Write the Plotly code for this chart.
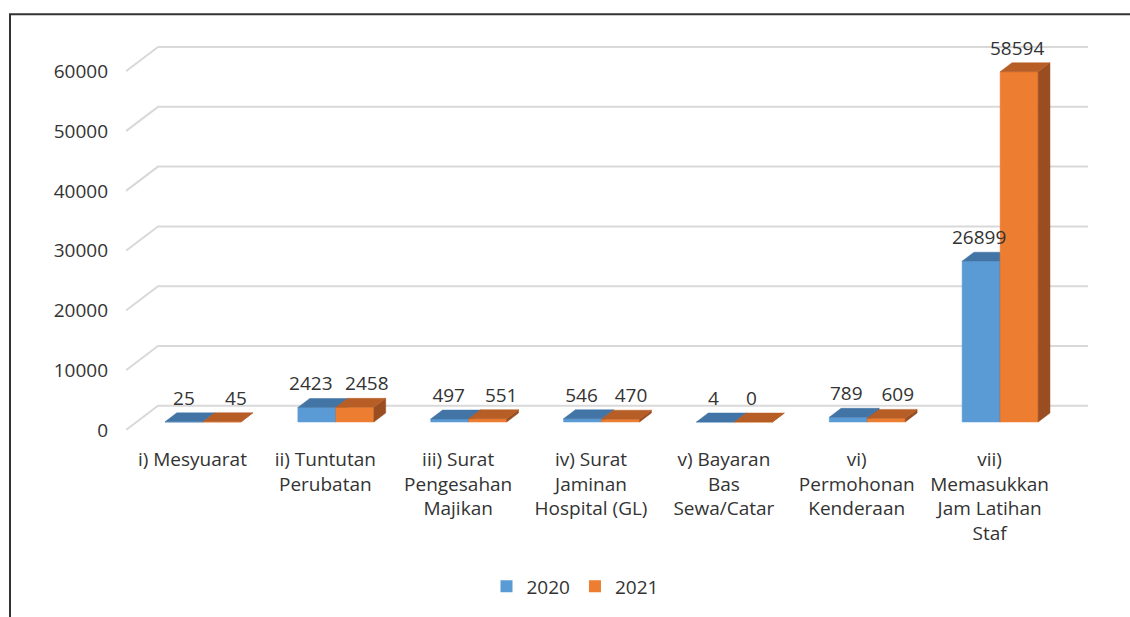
import plotly.graph_objects as go

# ---------------- data ----------------
categories = [
    "i) Mesyuarat",
    "ii) Tuntutan<br>Perubatan",
    "iii) Surat<br>Pengesahan<br>Majikan",
    "iv) Surat<br>Jaminan<br>Hospital (GL)",
    "v) Bayaran<br>Bas<br>Sewa/Catar",
    "vi)<br>Permohonan<br>Kenderaan",
    "vii)<br>Memasukkan<br>Jam Latihan<br>Staf",
]
values_2020 = [25, 2423, 497, 546, 4, 789, 26899]
values_2021 = [45, 2458, 551, 470, 0, 609, 58594]
series_names = ["2020", "2021"]
y_ticks = [0, 10000, 20000, 30000, 40000, 50000, 60000]

# ---------------- styling / geometry ----------------
W, H = 1130, 617
L, R, T, B = 126, 1088, 30, 434          # plot area in pixels
DEPTH_PX = (32.0, 24.5)                  # oblique depth of the wall
n = len(categories)
px_per_x = (R - L - DEPTH_PX[0]) / n
py_per_unit = 60.38 / 10000.0
x_range = [-0.5, n - 0.5 + DEPTH_PX[0] / px_per_x]
y_range = [0, (B - T) / py_per_unit]

# horizontal nudges (px) of the data labels, as in the reference
label_nudge_px = [
    [0, -6, -1, -1, -2, -2, -2],
    [14, 12, 13.5, 10.5, -2, 11.5, -2],
]

def dx(p):
    return p / px_per_x

def dy(p):
    return p / py_per_unit

DXu, DYu = dx(DEPTH_PX[0]), dy(DEPTH_PX[1])
F0, FD = 0.33, 0.37          # bar front position / bar depth (fractions of depth)
BW = dx(38)                  # bar width

FONT = "Open Sans"
FS = 19
TXT = "#333333"
GRID = "#D9D9D9"
front_cols = ["#5B9BD5", "#ED7D31"]
top_cols = ["#4274A6", "#B65E26"]
side_cols = ["#37628D", "#9A4D20"]

fig = go.Figure()

# gridlines (diagonal + back wall line)
gx, gy = [], []
for v in y_ticks:
    gx += [-0.5, -0.5 + DXu, n - 0.5 + DXu, None]
    gy += [v, v + DYu, v + DYu, None]
fig.add_trace(go.Scatter(x=gx, y=gy, mode="lines", line=dict(color=GRID, width=2),
                         hoverinfo="skip", showlegend=False))

def poly_trace(xs, ys, color):
    return go.Scatter(x=xs, y=ys, mode="lines", fill="toself", fillcolor=color,
                      line=dict(color=color, width=0.5), hoverinfo="skip",
                      showlegend=False)

label_x, label_y, label_t = [], [], []
for s, vals in enumerate([values_2020, values_2021]):
    fx, fy, tx, ty, sx, sy = [], [], [], [], [], []
    ddx, ddy = FD * DXu, FD * DYu
    for i, v in enumerate(vals):
        xc = i + F0 * DXu
        xl = xc - BW if s == 0 else xc
        xr = xl + BW
        yb = F0 * DYu
        yt = yb + v
        fx += [xl, xr, xr, xl, xl, None]
        fy += [yb, yb, yt, yt, yb, None]
        tx += [xl, xr, xr + ddx, xl + ddx, xl, None]
        ty += [yt, yt, yt + ddy, yt + ddy, yt, None]
        sx += [xr, xr + ddx, xr + ddx, xr, xr, None]
        sy += [yb, yb + ddy, yt + ddy, yt, yb, None]
        label_x.append(xl + BW / 2 + dx(label_nudge_px[s][i]))
        label_y.append(yt + dy(22))
        label_t.append(str(v))
    fig.add_trace(poly_trace(fx, fy, front_cols[s]))
    fig.add_trace(poly_trace(sx, sy, side_cols[s]))
    fig.add_trace(poly_trace(tx, ty, top_cols[s]))

fig.add_trace(go.Scatter(x=label_x, y=label_y, text=label_t, mode="text",
                         textposition="middle center",
                         textfont=dict(family=FONT, size=FS, color=TXT),
                         hoverinfo="skip", showlegend=False, cliponaxis=False))

# legend entries
for s, name in enumerate(series_names):
    fig.add_trace(go.Scatter(x=[None], y=[None], mode="markers", name=name,
                             marker=dict(symbol="square", size=12, color=front_cols[s])))

def px_to_paper_x(p):
    return (p - L) / (R - L)

def px_to_paper_y(p):
    return (B - p) / (B - T)

# outer chart border (left and top, rest cropped)
fig.add_shape(type="path", xref="paper", yref="paper",
              path=f"M {px_to_paper_x(10)},{px_to_paper_y(630)} L {px_to_paper_x(10)},{px_to_paper_y(14)} L {px_to_paper_x(1140)},{px_to_paper_y(14)}",
              line=dict(color="#333333", width=2))

fig.update_layout(
    width=W, height=H,
    margin=dict(l=L, r=W - R, t=T, b=H - B, pad=0),
    paper_bgcolor="white", plot_bgcolor="white",
    font=dict(family=FONT, size=FS, color=TXT),
    showlegend=True,
    legend=dict(orientation="h", x=px_to_paper_x(575), xanchor="center",
                y=px_to_paper_y(592), yanchor="middle",
                font=dict(family=FONT, size=FS, color=TXT),
                itemwidth=30, bgcolor="rgba(0,0,0,0)"),
    xaxis=dict(range=x_range, tickvals=list(range(n)), ticktext=categories,
               showgrid=False, zeroline=False, showline=False, ticks="",
               ticklabelstandoff=16, fixedrange=True),
    yaxis=dict(range=y_range, tickvals=y_ticks, ticktext=[str(v) for v in y_ticks],
               showgrid=False, zeroline=False, showline=False, ticks="",
               ticklabelstandoff=17, fixedrange=True),
)

fig.write_html("out.html", config={"displayModeBar": False},
               post_script="document.body.style.margin='0';")
